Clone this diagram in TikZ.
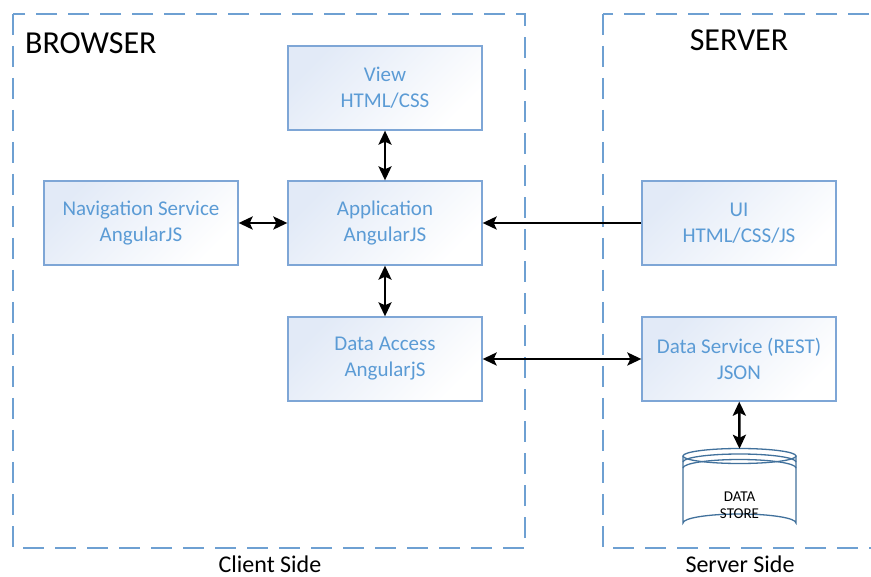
\documentclass[tikz,border=0pt]{standalone}
\usepackage{fontspec}
\setmainfont{Carlito}
\usetikzlibrary{arrows.meta}
\definecolor{boxtext}{RGB}{91,155,213}
\definecolor{boxborder}{RGB}{126,166,214}
\definecolor{boxfill}{RGB}{226,234,247}
\definecolor{dashcol}{RGB}{110,160,210}
\definecolor{storecol}{RGB}{65,113,156}
\tikzset{
  tip/.tip={Stealth[length=14pt,width=13pt,inset=3pt]},
  compbox/.style={draw=boxborder, line width=1.3pt, top color=boxfill, bottom color=white, shading angle=45,
    minimum width=194pt, minimum height=84pt, inner sep=0pt, align=center,
    text=boxtext, font=\fontsize{21}{26}\selectfont},
  container/.style={draw=dashcol, line width=1.4pt, dash pattern=on 21pt off 11pt},
  conn/.style={line width=2.6pt, black, tip-tip},
  oneway/.style={line width=2.6pt, black, -tip},
  title/.style={font=\fontsize{32}{38}\selectfont, text=black, inner sep=0pt},
  caption/.style={font=\fontsize{24}{28}\selectfont, text=black, inner sep=0pt},
}
\begin{document}
\begin{tikzpicture}[x=1pt,y=-1pt]
\useasboundingbox (0,0) rectangle (871,577);
\fill[white] (0,0) rectangle (871,577);
\begin{scope}
\clip (0,0) rectangle (871,577);
\draw[container] (13,14) rectangle (525,548);
\draw[container] (603,14) rectangle (890,548);
\end{scope}

\node[title, anchor=west] (browser) at (25,43) {BROWSER};
\node[title] (server) at (739,40) {SERVER};
\node[caption] (client) at (270,564) {Client Side};
\node[caption] (serverside) at (740,564) {Server Side};

\node[compbox] (view) at (385,88) {View\\HTML/CSS};
\node[compbox] (nav) at (141,223) {Navigation Service\\AngularJS};
\node[compbox] (app) at (385,223) {Application\\AngularJS};
\node[compbox] (ui) at (739,223) {UI\\HTML/CSS/JS};
\node[compbox] (da) at (385,359) {Data Access\\AngularjS};
\node[compbox] (dsvc) at (739,359) {Data Service (REST)\\JSON};

% data store cylinder
\begin{scope}[draw=storecol, line width=1.3pt]
\draw (683,456) -- (683,523) arc[start angle=180, end angle=360, x radius=56.5, y radius=9] -- (796,456);
\draw (739.5,456) ellipse[x radius=56.5, y radius=7.5];
\draw (683,462) arc[start angle=180, end angle=360, x radius=56.5, y radius=8];
\draw (683,468) arc[start angle=180, end angle=360, x radius=56.5, y radius=8.5];
\end{scope}
\node[minimum width=113pt, minimum height=83pt, inner sep=0pt] (store) at (739.5,490.5) {};
\node[align=center, font=\fontsize{15}{17}\selectfont, text=black] (storetext) at (739.5,505) {DATA\\STORE};

\draw[conn] (view) -- (app);
\draw[conn] (nav) -- (app);
\draw[oneway] (ui) -- (app);
\draw[conn] (app) -- (da);
\draw[conn] (da) -- (dsvc);
\draw[conn] (dsvc) -- (store.north);
\end{tikzpicture}
\end{document}
